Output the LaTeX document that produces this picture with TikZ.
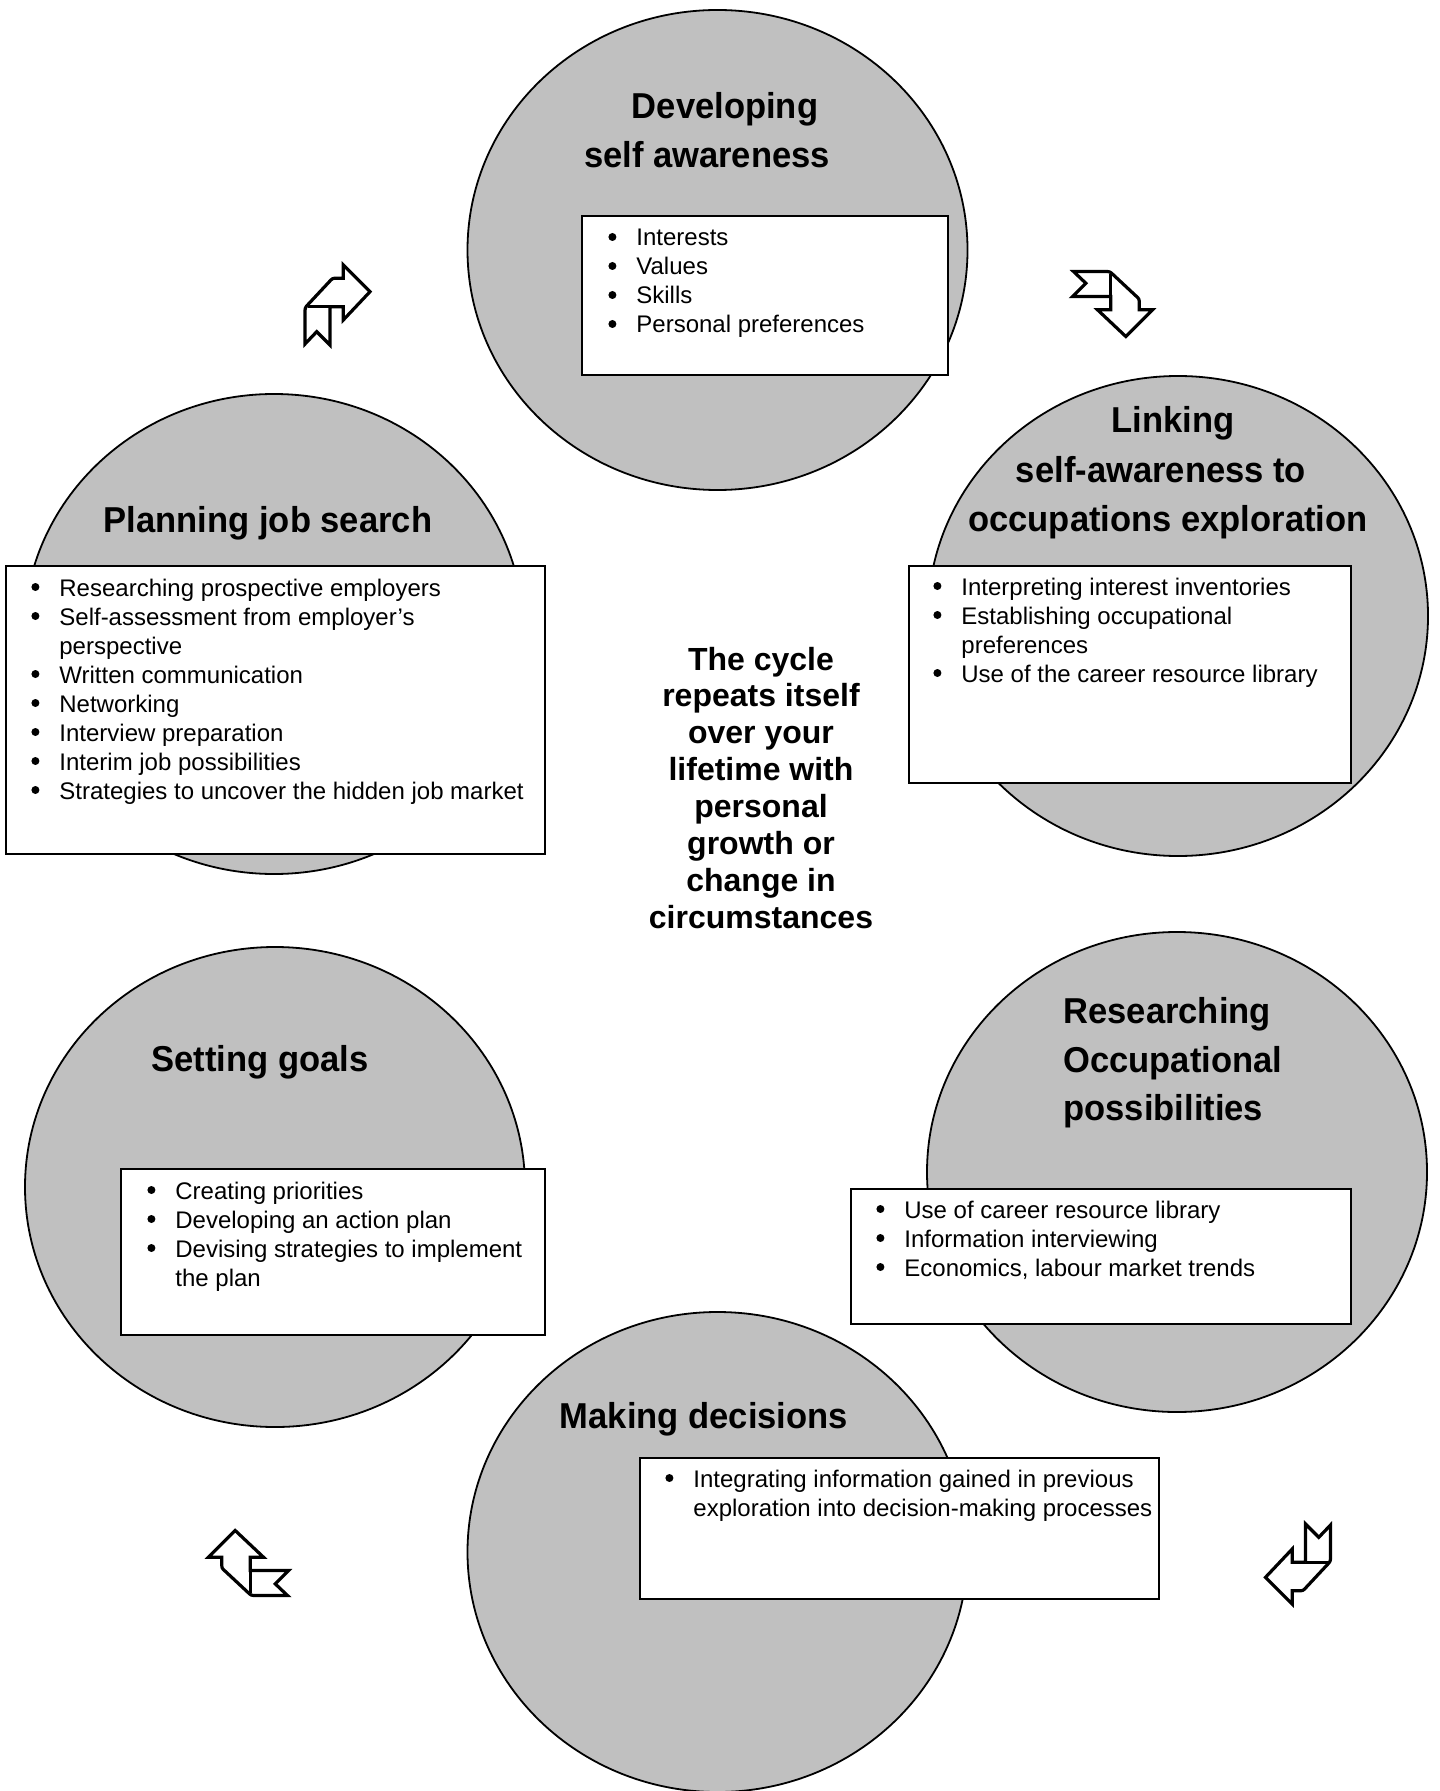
\documentclass[tikz,border=0pt]{standalone}
\usepackage{fontspec}
\setmainfont{Liberation Sans}
\newfontfamily\headfont[FakeStretch=0.96]{Liberation Sans}

\definecolor{discgrey}{RGB}{192,192,192}

% one bullet column of fixed width, then the item text
\newcommand\blt{\makebox[14pt][l]{\tikz[baseline=-4.5pt]\fill (0,0) circle[radius=2pt];}}
\newcommand\pointlist[1]{\begin{tabular}[t]{@{}l@{}l@{}}#1\end{tabular}}

\tikzset{
  disc/.style={draw=black, line width=0.9pt, fill=discgrey},
  panel/.style={draw=black, line width=1pt, fill=white},
  head/.style={font=\headfont\bfseries\fontsize{18}{24}\selectfont, inner sep=0pt, anchor=base},
  items/.style={font=\fontsize{12}{14.5}\selectfont, inner sep=0pt, anchor=base west},
  turn/.style={draw=black, line width=1.6pt, fill=white, line join=miter},
  cyclearrow/.pic={
    \draw[turn] (-32.5,39) -- (-20.8,26.7) -- (-7.5,40) -- (-7.5,1.7) -- (5.8,1.7)
      -- (5.8,15) -- (32.5,-13.3) -- (5.8,-40) -- (5.8,-26.7) -- (-1,-26.7)
      .. controls (-5,-26.7) .. (-8,-23.5) -- (-29,-1)
      .. controls (-32.5,2.7) .. (-32.5,8) -- cycle;
    \draw[turn] (-29.7,1.7) -- (-7.5,1.7);
  }
}

\begin{document}
\begin{tikzpicture}[x=0.5pt, y=-0.5pt]
  \useasboundingbox (0,0) rectangle (1439,1791);

  % the six stages
  \draw[disc] (717.5,250)  ellipse [x radius=125pt, y radius=120pt];
  \draw[disc] (1178,616)   ellipse [x radius=125pt, y radius=120pt];
  \draw[disc] (274,634)    ellipse [x radius=125pt, y radius=120pt];
  \draw[disc] (275,1187)   ellipse [x radius=125pt, y radius=120pt];
  \draw[disc] (1177,1172)  ellipse [x radius=125pt, y radius=120pt];
  \draw[disc] (717.5,1552) ellipse [x radius=125pt, y radius=120pt];

  % detail panels
  \draw[panel] (582,216)  rectangle (948,375);
  \draw[panel] (909,566)  rectangle (1351,783);
  \draw[panel] (6,566)    rectangle (545,854);
  \draw[panel] (121,1169) rectangle (545,1335);
  \draw[panel] (851,1189) rectangle (1351,1324);
  \draw[panel] (640,1458) rectangle (1159,1599);

  % stage headings
  \node[head] (t1a) at (725,119) {Developing};
  \node[head] (t1b) at (707,168) {self awareness};
  \node[head] (t2a) at (1173,433) {Linking};
  \node[head] (t2b) at (1161,482) {self-awareness to};
  \node[head] (t2c) at (1168,531) {occupations exploration};
  \node[head] (t3)  at (268,532) {Planning job search};
  \node[head] (t4)  at (260,1071) {Setting goals};
  \node[head, anchor=base west] (t5a) at (1063,1023) {Researching};
  \node[head, anchor=base west] (t5b) at (1063,1072) {Occupational};
  \node[head, anchor=base west] (t5c) at (1063,1120) {possibilities};
  \node[head] (t6)  at (704,1428) {Making decisions};

  % panel contents
  \node[items] (l1) at (608,246) {\pointlist{
    \blt & Interests\\
    \blt & Values\\
    \blt & Skills\\
    \blt & Personal preferences}};
  \node[items] (l2) at (933,595) {\pointlist{
    \blt & Interpreting interest inventories\\
    \blt & Establishing occupational\\
         & preferences\\
    \blt & Use of the career resource library}};
  \node[items] (l3) at (31,596) {\pointlist{
    \blt & Researching prospective employers\\
    \blt & Self-assessment from employer’s\\
         & perspective\\
    \blt & Written communication\\
    \blt & Networking\\
    \blt & Interview preparation\\
    \blt & Interim job possibilities\\
    \blt & Strategies to uncover the hidden job market}};
  \node[items] (l4) at (147,1199) {\pointlist{
    \blt & Creating priorities\\
    \blt & Developing an action plan\\
    \blt & Devising strategies to implement\\
         & the plan}};
  \node[items] (l5) at (876,1218) {\pointlist{
    \blt & Use of career resource library\\
    \blt & Information interviewing\\
    \blt & Economics, labour market trends}};
  \node[items] (l6) at (665,1487) {\pointlist{
    \blt & Integrating information gained in previous\\
         & exploration into decision-making processes}};

  % centre statement
  \node[font=\bfseries\fontsize{16}{18.45}\selectfont, inner sep=0pt, anchor=base] (cycle) at (761,670)
    {\begin{tabular}[t]{@{}c@{}}The cycle\\ repeats itself\\ over your\\ lifetime with\\
      personal\\ growth or\\ change in\\ circumstances\end{tabular}};

  % turning arrows between the stages
  \pic at (337.5,305) {cyclearrow};
  \pic[rotate=-90] at (1112.5,304) {cyclearrow};
  \pic[rotate=180] at (1298,1564) {cyclearrow};
  \pic[rotate=90] at (248.5,1563) {cyclearrow};
\end{tikzpicture}
\end{document}
